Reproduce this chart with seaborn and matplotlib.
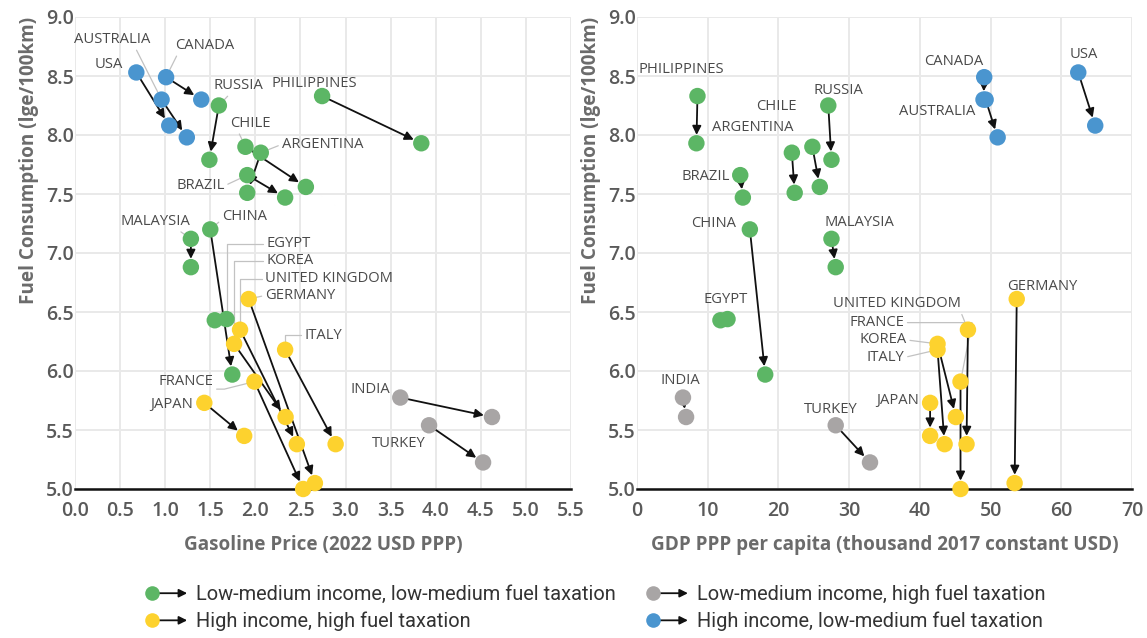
import numpy as np
import pandas as pd
import matplotlib
matplotlib.use("Agg")
import matplotlib.pyplot as plt
import seaborn as sns
from matplotlib.lines import Line2D
from matplotlib.patches import FancyArrowPatch
from matplotlib.legend_handler import HandlerBase

# ---------------- data ----------------
countries = ["USA", "AUSTRALIA", "CANADA", "RUSSIA", "PHILIPPINES", "CHILE",
             "ARGENTINA", "BRAZIL", "MALAYSIA", "CHINA", "EGYPT", "KOREA",
             "UNITED KINGDOM", "GERMANY", "ITALY", "FRANCE", "JAPAN", "INDIA",
             "TURKEY"]
G1 = "Low-medium income, low-medium fuel taxation"
G2 = "Low-medium income, high fuel taxation"
G3 = "High income, high fuel taxation"
G4 = "High income, low-medium fuel taxation"
groups = [G4, G4, G4, G1, G1, G1, G1, G1, G1, G1, G1, G3, G3, G3, G3, G3, G3, G2, G2]

price_start = [0.68, 0.96, 1.01, 1.595, 2.74, 1.89, 2.06, 1.91, 1.285, 1.50, 1.68,
               1.764, 1.83, 1.926, 2.33, 1.99, 1.434, 3.607, 3.926]
price_end = [1.045, 1.24, 1.40, 1.49, 3.84, 2.56, 1.91, 2.33, 1.285, 1.744, 1.55,
             2.335, 2.46, 2.66, 2.89, 2.53, 1.876, 4.624, 4.525]
gdp_start = [62.4, 49.3, 49.1, 27.05, 8.55, 24.8, 21.9, 14.6, 27.5, 15.96, 12.8,
             42.5, 46.8, 53.7, 42.5, 45.75, 41.45, 6.5, 28.1]
gdp_end = [64.8, 51.0, 49.0, 27.5, 8.4, 25.85, 22.3, 14.97, 28.1, 18.13, 11.8,
           45.1, 46.6, 53.4, 43.5, 45.75, 41.45, 6.94, 32.95]
fuel_start = [8.53, 8.30, 8.49, 8.25, 8.33, 7.90, 7.85, 7.66, 7.12, 7.20, 6.44,
              6.23, 6.35, 6.61, 6.18, 5.91, 5.73, 5.775, 5.54]
fuel_end = [8.08, 7.98, 8.30, 7.79, 7.93, 7.56, 7.51, 7.47, 6.88, 5.97, 6.43,
            5.61, 5.38, 5.05, 5.38, 5.00, 5.45, 5.61, 5.225]

left_xticks = [0.0, 0.5, 1.0, 1.5, 2.0, 2.5, 3.0, 3.5, 4.0, 4.5, 5.0, 5.5]
right_xticks = [0, 10, 20, 30, 40, 50, 60, 70]
yticks = [5.0, 5.5, 6.0, 6.5, 7.0, 7.5, 8.0, 8.5, 9.0]

group_order = [G1, G2, G3, G4]
palette = {G1: "#5cb665", G2: "#a8a5a5", G3: "#fdd22e", G4: "#4a95cf"}

df = pd.DataFrame({"country": countries, "group": groups,
                   "price_start": price_start, "price_end": price_end,
                   "gdp_start": gdp_start, "gdp_end": gdp_end,
                   "fuel_start": fuel_start, "fuel_end": fuel_end})

# ---------------- label layout ----------------
# (x, y, ha, leader relpos or None, connectionstyle or None)
ANG = "angle,angleA=0,angleB=90,rad=0"
left_labels = {
    "USA": (0.38, 8.60, "center", None, None),
    "AUSTRALIA": (0.41, 8.81, "center", (0.8, 0.0), None),
    "CANADA": (1.44, 8.76, "center", (0.05, 0.0), None),
    "RUSSIA": (1.81, 8.42, "center", (0.35, 0.0), None),
    "PHILIPPINES": (2.65, 8.44, "center", None, None),
    "CHILE": (1.94, 8.10, "center", (0.2, 0.0), None),
    "ARGENTINA": (2.29, 7.92, "left", (0.0, 0.5), None),
    "BRAZIL": (1.39, 7.57, "center", (1.0, 0.5), None),
    "MALAYSIA": (0.89, 7.27, "center", (0.8, 0.0), None),
    "CHINA": (1.63, 7.31, "left", (0.0, 0.3), None),
    "EGYPT": (2.12, 7.08, "left", (0.0, 0.5), ANG),
    "KOREA": (2.12, 6.935, "left", (0.0, 0.5), ANG),
    "UNITED KINGDOM": (2.106, 6.78, "left", (0.0, 0.5), ANG),
    "GERMANY": (2.106, 6.64, "left", (0.0, 0.5), None),
    "ITALY": (2.54, 6.305, "left", (0.0, 0.5), ANG),
    "FRANCE": (1.23, 5.91, "center", (0.0, 0.0), "angle,angleA=0,angleB=14,rad=0"),
    "JAPAN": (1.31, 5.715, "right", None, None),
    "INDIA": (3.28, 5.84, "center", None, None),
    "TURKEY": (3.595, 5.387, "center", None, None),
}
right_labels = {
    "PHILIPPINES": (6.3, 8.555, "center", None, None),
    "CHILE": (19.7, 8.24, "center", None, None),
    "ARGENTINA": (16.4, 8.065, "center", None, None),
    "RUSSIA": (28.5, 8.38, "center", None, None),
    "BRAZIL": (9.7, 7.65, "center", None, None),
    "CHINA": (10.9, 7.25, "center", None, None),
    "MALAYSIA": (31.4, 7.26, "center", None, None),
    "CANADA": (44.85, 8.62, "center", None, None),
    "AUSTRALIA": (42.5, 8.20, "center", None, None),
    "USA": (63.2, 8.68, "center", None, None),
    "EGYPT": (12.6, 6.61, "center", None, None),
    "INDIA": (6.2, 5.92, "center", None, None),
    "TURKEY": (27.4, 5.675, "center", None, None),
    "JAPAN": (36.9, 5.75, "center", None, None),
    "GERMANY": (57.3, 6.72, "center", None, None),
    "UNITED KINGDOM": (36.7, 6.57, "center", (1.0, 0.0), None),
    "FRANCE": (33.9, 6.41, "center", (1.0, 0.5), "angle,angleA=0,angleB=79,rad=0"),
    "KOREA": (34.8, 6.263, "center", (1.0, 0.5), None),
    "ITALY": (35.15, 6.115, "center", (1.0, 0.5), None),
}

# ---------------- style ----------------
sns.set_theme(style="white")
plt.rcParams["font.family"] = ["Open Sans", "DejaVu Sans"]

TICK_C = "#5a5a5a"
LAB_C = "#6b6b6b"
TXT_C = "#4a4a4a"
LABEL_FS = 10.6

fig = plt.figure(figsize=(11.47, 6.38), dpi=100)
axL = fig.add_axes([75 / 1147, 1 - 489 / 638, 496 / 1147, 472 / 638])
axR = fig.add_axes([637 / 1147, 1 - 489 / 638, 495 / 1147, 472 / 638])


def draw_panel(ax, xs, xe, xlim, xticks, xfmt, xlabel, labels):
    # arrows start -> end
    for i in range(len(df)):
        ax.annotate("", xy=(df[xe][i], df["fuel_end"][i]),
                    xytext=(df[xs][i], df["fuel_start"][i]),
                    arrowprops=dict(arrowstyle="-|>", color="#111111", lw=1.3,
                                    shrinkA=0, shrinkB=6, mutation_scale=13),
                    zorder=2, annotation_clip=False)
    pts = pd.concat([
        pd.DataFrame({"x": df[xs], "fuel": df["fuel_start"], "group": df["group"]}),
        pd.DataFrame({"x": df[xe], "fuel": df["fuel_end"], "group": df["group"]}),
    ], ignore_index=True)
    sns.scatterplot(data=pts, x="x", y="fuel", hue="group", hue_order=group_order,
                    palette=palette, s=140, edgecolor="none", linewidth=0,
                    legend=False, ax=ax, zorder=3, clip_on=False)
    # labels
    for c, (tx, ty, ha, relpos, cs) in labels.items():
        i = countries.index(c)
        px, py = df[xs][i], df["fuel_start"][i]
        if relpos is None:
            ax.text(tx, ty, c, ha=ha, va="center", fontsize=LABEL_FS, color=TXT_C,
                    zorder=4)
        else:
            ap = dict(arrowstyle="-", color="#c2c2c2", lw=0.9, shrinkA=0, shrinkB=0,
                      relpos=relpos)
            if cs is not None:
                ap["connectionstyle"] = cs
            ax.annotate(c, xy=(px, py), xytext=(tx, ty), ha=ha, va="center",
                        fontsize=LABEL_FS, color=TXT_C, arrowprops=ap, zorder=1,
                        annotation_clip=False)
    ax.set_xlim(*xlim)
    ax.set_ylim(5.0, 9.0)
    ax.set_xticks(xticks)
    ax.set_xticklabels([xfmt(v) for v in xticks])
    ax.set_yticks(yticks)
    ax.set_yticklabels([f"{v:.1f}" for v in yticks])
    ax.grid(True, color="#e9e9e9", lw=1.4, zorder=0)
    ax.set_axisbelow(True)
    for s in ["left", "right", "top"]:
        ax.spines[s].set_visible(False)
    ax.spines["bottom"].set_color("#111111")
    ax.spines["bottom"].set_linewidth(1.8)
    ax.spines["bottom"].set_zorder(2.5)
    ax.tick_params(axis="both", length=0, labelsize=14, labelcolor=TICK_C)
    ax.tick_params(axis="x", pad=9)
    ax.tick_params(axis="y", pad=1)
    for t in ax.get_xticklabels() + ax.get_yticklabels():
        t.set_fontweight("semibold")
    ax.set_xlabel(xlabel, fontsize=13.6, fontweight="bold", color=LAB_C, labelpad=10)
    ax.set_ylabel("Fuel Consumption (lge/100km)", fontsize=13.6, fontweight="bold",
                  color=LAB_C, labelpad=5, loc="top")


draw_panel(axL, "price_start", "price_end", (0, 5.5), left_xticks,
           lambda v: f"{v:.1f}", "Gasoline Price (2022 USD PPP)", left_labels)
draw_panel(axR, "gdp_start", "gdp_end", (0, 70), right_xticks,
           lambda v: f"{v:d}", "GDP PPP per capita (thousand 2017 constant USD)",
           right_labels)


# ---------------- legend ----------------
class HandlerDotArrow(HandlerBase):
    def create_artists(self, legend, orig_handle, xdescent, ydescent, width,
                       height, fontsize, trans):
        y = height / 2 - ydescent
        r = 5.0
        cx = -xdescent + r
        dot = Line2D([cx], [y], marker="o", markersize=10.5, linestyle="",
                     markerfacecolor=orig_handle.get_markerfacecolor(),
                     markeredgecolor="none", transform=trans)
        arr = FancyArrowPatch((cx + r, y), (-xdescent + width, y),
                              arrowstyle="-|>", mutation_scale=12, color="#111111",
                              lw=1.3, transform=trans, shrinkA=0, shrinkB=0)
        return [arr, dot]


leg_order = [G1, G3, G2, G4]
handles = [Line2D([], [], marker="o", linestyle="", markerfacecolor=palette[g],
                  markeredgecolor="none") for g in leg_order]
leg = fig.legend(handles, leg_order, handler_map={Line2D: HandlerDotArrow()},
                 ncol=2, loc="center", bbox_to_anchor=(0.519, 0.047), frameon=False,
                 fontsize=14.4, handlelength=2.1, handletextpad=0.45,
                 columnspacing=1.5, labelspacing=0.38)
for t in leg.get_texts():
    t.set_color("#333333")
    t.set_family(["Roboto", "DejaVu Sans"])

fig.savefig("out.png", dpi=100, facecolor="white")
